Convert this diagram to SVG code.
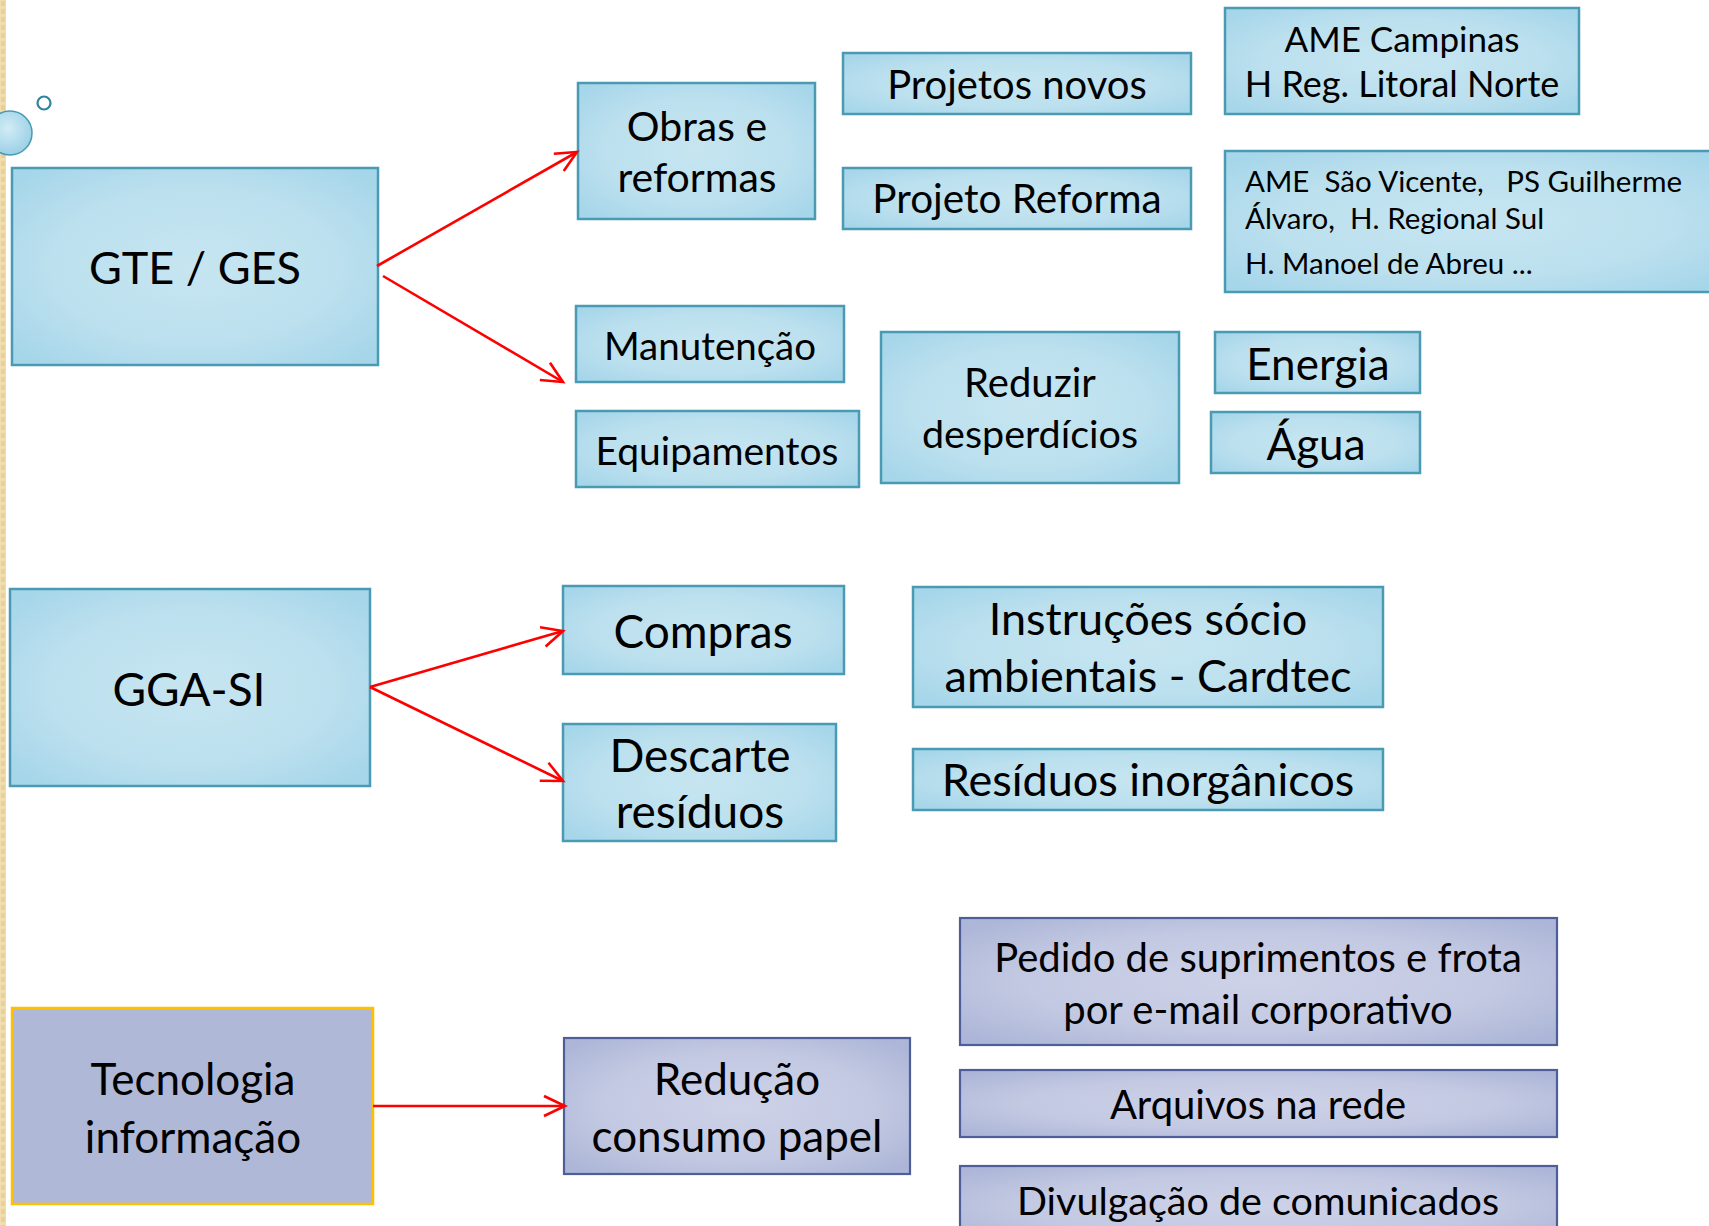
<svg xmlns="http://www.w3.org/2000/svg" width="1709" height="1226" viewBox="0 0 1709 1226">
<defs>
<radialGradient id="gBlue" cx="0.5" cy="0.5" r="0.65">
<stop offset="0" stop-color="#C6E5F1"/>
<stop offset="0.6" stop-color="#BCE0EE"/>
<stop offset="1" stop-color="#A6D6EA"/>
</radialGradient>
<radialGradient id="gPurple" cx="0.5" cy="0.5" r="0.65">
<stop offset="0" stop-color="#CDD2E8"/>
<stop offset="0.6" stop-color="#C3C9E2"/>
<stop offset="1" stop-color="#ADB6D8"/>
</radialGradient>
<radialGradient id="gBubble" cx="0.45" cy="0.4" r="0.6">
<stop offset="0" stop-color="#D2ECF6"/>
<stop offset="1" stop-color="#9CD0E6"/>
</radialGradient>
<marker id="arr" markerUnits="userSpaceOnUse" markerWidth="26" markerHeight="26" refX="22" refY="11" orient="auto" viewBox="0 0 26 22">
<path d="M1,1 L22,11 L1,21" fill="none" stroke="#FF0000" stroke-width="2.6"/>
</marker>
<pattern id="strip" width="6" height="8" patternUnits="userSpaceOnUse">
<rect width="6" height="8" fill="#F1DEB0"/>
<rect x="1" y="1" width="4" height="5" fill="#E8CF94"/>
</pattern>
</defs>
<style>
.blue{fill:url(#gBlue);stroke:#4A9AB3;stroke-width:2.5}
.purple{fill:url(#gPurple);stroke:#4E5F98;stroke-width:2.2}
.ti{fill:#AFB8D7;stroke:#FFC000;stroke-width:2.5}
text{font-family:Lato,"Open Sans","Liberation Sans",sans-serif;fill:#000;text-anchor:middle}
.conn{stroke:#FF0000;stroke-width:2.6;fill:none;marker-end:url(#arr)}
</style>
<rect width="1709" height="1226" fill="#FFFFFF"/>
<rect x="0" y="0" width="6" height="1226" fill="url(#strip)"/>
<g id="decor">
<circle cx="10" cy="133" r="22" fill="url(#gBubble)" stroke="#4A9AB3" stroke-width="1.5"/>
<circle cx="44" cy="103" r="6.5" fill="none" stroke="#31849B" stroke-width="2.2"/>
</g>

<g id="gte-ges"><rect class="blue" x="12" y="168" width="366" height="197"/><text x="195" y="284" font-size="45">GTE / GES</text></g>
<g id="obras"><rect class="blue" x="578" y="83" width="237" height="136"/><text x="697" y="141" font-size="41">Obras e</text><text x="697" y="192" font-size="41">reformas</text></g>
<g id="projetos-novos"><rect class="blue" x="843" y="53" width="348" height="61"/><text x="1017" y="99" font-size="40">Projetos novos</text></g>
<g id="projeto-reforma"><rect class="blue" x="843" y="168" width="348" height="61"/><text x="1017" y="213" font-size="40.5">Projeto Reforma</text></g>
<g id="ame-campinas"><rect class="blue" x="1225" y="8" width="354" height="106"/><text x="1402" y="52" font-size="35">AME Campinas</text><text x="1402" y="97" font-size="36">H Reg. Litoral Norte</text></g>
<g id="ame-sao-vicente"><rect class="blue" x="1225" y="151" width="500" height="141"/><text x="1245" y="192" font-size="29.5" style="text-anchor:start;white-space:pre">AME  São Vicente,   PS Guilherme</text><text x="1245" y="229" font-size="29.5" style="text-anchor:start;white-space:pre">Álvaro,  H. Regional Sul</text><text x="1245" y="274" font-size="29.5" style="text-anchor:start">H. Manoel de Abreu ...</text></g>
<g id="manutencao"><rect class="blue" x="576" y="306" width="268" height="76"/><text x="710" y="360" font-size="38.5">Manutenção</text></g>
<g id="equipamentos"><rect class="blue" x="576" y="411" width="283" height="76"/><text x="717" y="465" font-size="39">Equipamentos</text></g>
<g id="reduzir"><rect class="blue" x="881" y="332" width="298" height="151"/><text x="1030" y="397" font-size="40">Reduzir</text><text x="1030" y="448" font-size="39.5">desperdícios</text></g>
<g id="energia"><rect class="blue" x="1215" y="332" width="205" height="61"/><text x="1318" y="380" font-size="44">Energia</text></g>
<g id="agua"><rect class="blue" x="1211" y="412" width="209" height="61"/><text x="1316" y="460" font-size="44">Água</text></g>

<g id="gga-si"><rect class="blue" x="10" y="589" width="360" height="197"/><text x="189" y="706" font-size="46">GGA-SI</text></g>
<g id="compras"><rect class="blue" x="563" y="586" width="281" height="88"/><text x="703" y="648" font-size="46">Compras</text></g>
<g id="descarte"><rect class="blue" x="563" y="724" width="273" height="117"/><text x="700" y="772" font-size="46">Descarte</text><text x="700" y="828" font-size="46">resíduos</text></g>
<g id="instrucoes"><rect class="blue" x="913" y="587" width="470" height="120"/><text x="1148" y="635" font-size="45">Instruções sócio</text><text x="1148" y="692" font-size="45">ambientais - Cardtec</text></g>
<g id="residuos-inorganicos"><rect class="blue" x="913" y="749" width="470" height="61"/><text x="1148" y="796" font-size="45">Resíduos inorgânicos</text></g>

<g id="tecnologia"><rect class="ti" x="12" y="1008" width="361" height="196"/><text x="193" y="1095" font-size="44">Tecnologia</text><text x="193" y="1153" font-size="44">informação</text></g>
<g id="reducao"><rect class="purple" x="564" y="1038" width="346" height="136"/><text x="737" y="1095" font-size="44">Redução</text><text x="737" y="1152" font-size="44">consumo papel</text></g>
<g id="pedido"><rect class="purple" x="960" y="918" width="597" height="127"/><text x="1258" y="972" font-size="40">Pedido de suprimentos e frota</text><text x="1258" y="1024" font-size="40">por e-mail corporativo</text></g>
<g id="arquivos"><rect class="purple" x="960" y="1070" width="597" height="67"/><text x="1258" y="1119" font-size="40">Arquivos na rede</text></g>
<g id="divulgacao"><rect class="purple" x="960" y="1166" width="597" height="80"/><text x="1258" y="1215" font-size="39.5">Divulgação de comunicados</text></g>

<g id="connectors">
<line class="conn" x1="377" y1="266" x2="577" y2="152"/>
<line class="conn" x1="383" y1="276" x2="563" y2="382"/>
<line class="conn" x1="370" y1="687" x2="563" y2="631"/>
<line class="conn" x1="370" y1="687" x2="563" y2="781"/>
<line class="conn" x1="373" y1="1106" x2="565" y2="1106"/>
</g>
</svg>
